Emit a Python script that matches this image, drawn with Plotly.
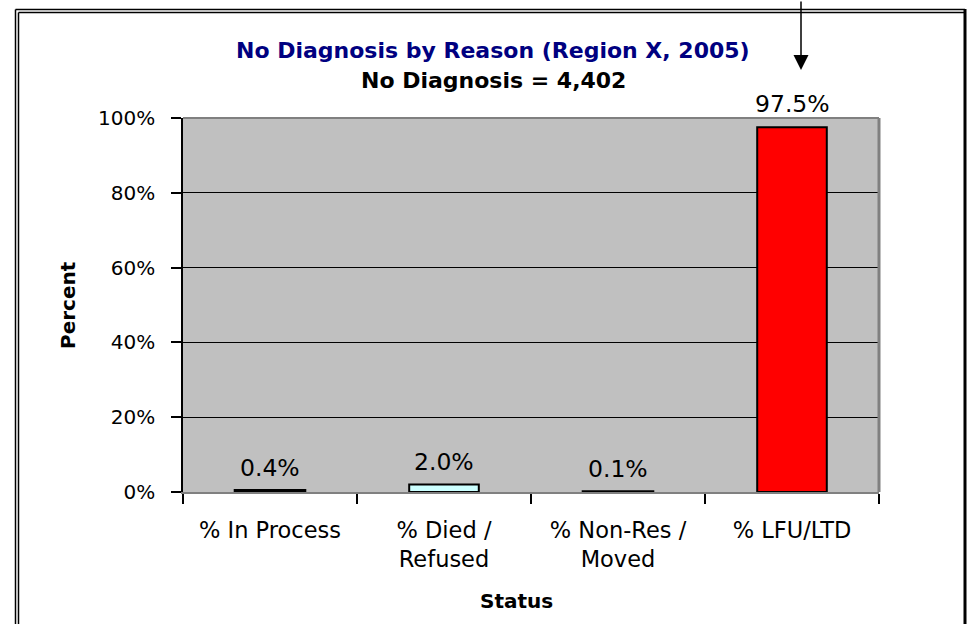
import plotly.graph_objects as go

categories = ["% In Process", "% Died /<br>Refused", "% Non-Res /<br>Moved", "% LFU/LTD"]
values = [0.4, 2.0, 0.1, 97.5]
bar_colors = ["#9999FF", "#CCFFFF", "#FFFFCC", "#FF0000"]
y_ticks = [0, 20, 40, 60, 80, 100]
y_tick_labels = ["0%", "20%", "40%", "60%", "80%", "100%"]

W, H = 967, 624
L, R, T, B = 183, 88, 118, 132
PW, PH = W - L - R, H - T - B
FONT = "DejaVu Sans, Arial, sans-serif"

def px(x):
    return (x - L) / PW

def py(y):
    return (H - B - y) / PH

fig = go.Figure()
fig.add_trace(go.Bar(
    x=categories, y=values,
    marker=dict(color=bar_colors, line=dict(color="black", width=[3, 2, 3, 2])),
    width=0.4,
    cliponaxis=False,
))

shapes = []
shapes.append(dict(type="line", xref="paper", yref="paper", x0=0, x1=1, y0=1, y1=1,
                   line=dict(color="#808080", width=2), layer="above"))
shapes.append(dict(type="line", xref="paper", yref="paper", x0=1, x1=1, y0=0, y1=1,
                   line=dict(color="#808080", width=3), layer="above"))
for x_, y_ in [(15.5, 9.5), (18.5, 12.5)]:
    shapes.append(dict(type="line", xref="paper", yref="paper",
                       x0=px(x_), x1=px(x_), y0=py(y_), y1=py(H + 10),
                       line=dict(color="black", width=1.5)))
    shapes.append(dict(type="line", xref="paper", yref="paper",
                       x0=px(x_), x1=px(965), y0=py(y_), y1=py(y_),
                       line=dict(color="black", width=1.5)))
shapes.append(dict(type="line", xref="paper", yref="paper",
                   x0=px(965), x1=px(965), y0=py(9), y1=py(H + 10),
                   line=dict(color="black", width=3)))

annotations = [
    dict(text="<b>No Diagnosis by Reason (Region X, 2005)</b>", x=px(493), y=py(51),
         xref="paper", yref="paper", showarrow=False, xanchor="center", yanchor="middle",
         font=dict(family=FONT, size=22, color="#000080")),
    dict(text="<b>No Diagnosis = 4,402</b>", x=px(493), y=py(80),
         xref="paper", yref="paper", showarrow=False, xanchor="center", yanchor="middle",
         font=dict(family=FONT, size=22, color="black")),
    dict(text="<b>Percent</b>", x=px(68), y=py(305), textangle=-90,
         xref="paper", yref="paper", showarrow=False, xanchor="center", yanchor="middle",
         font=dict(family=FONT, size=20, color="black")),
    dict(text="<b>Status</b>", x=px(516), y=py(601),
         xref="paper", yref="paper", showarrow=False, xanchor="center", yanchor="middle",
         font=dict(family=FONT, size=20, color="black")),
    dict(text="", x=px(801), y=py(70), xref="paper", yref="paper",
         showarrow=True, ax=0, ay=-80, arrowhead=2, arrowsize=2,
         arrowwidth=1.5, arrowcolor="black"),
]
for c, v in zip(categories, values):
    annotations.append(dict(text=f"{v:.1f}%", x=c, y=v, xref="x", yref="y",
                            showarrow=False, xanchor="center", yanchor="bottom", yshift=7,
                            font=dict(family=FONT, size=23.5, color="black")))

fig.update_layout(
    width=W, height=H,
    margin=dict(l=L, r=R, t=T, b=B, autoexpand=False),
    paper_bgcolor="white",
    plot_bgcolor="#C0C0C0",
    showlegend=False,
    shapes=shapes,
    annotations=annotations,
)
fig.update_xaxes(
    type="category", range=[-0.5, 3.5],
    showline=True, linecolor="#808080", linewidth=2,
    ticks="outside", tickson="boundaries", ticklen=10, tickcolor="black", tickwidth=1.5,
    tickfont=dict(family=FONT, size=22.5, color="black"),
    ticklabelstandoff=17,
    showgrid=False,
)
fig.update_yaxes(
    range=[0, 100], tickvals=y_ticks, ticktext=y_tick_labels,
    showline=True, linecolor="black", linewidth=1.5,
    ticks="outside", ticklen=10, tickcolor="black", tickwidth=1.5,
    tickfont=dict(family=FONT, size=20, color="black"),
    ticklabelstandoff=12,
    showgrid=True, gridcolor="black", gridwidth=1,
    zeroline=False,
)
fig.write_html("out.html", config={"displayModeBar": False},
               post_script="document.body.style.margin='0px';")
